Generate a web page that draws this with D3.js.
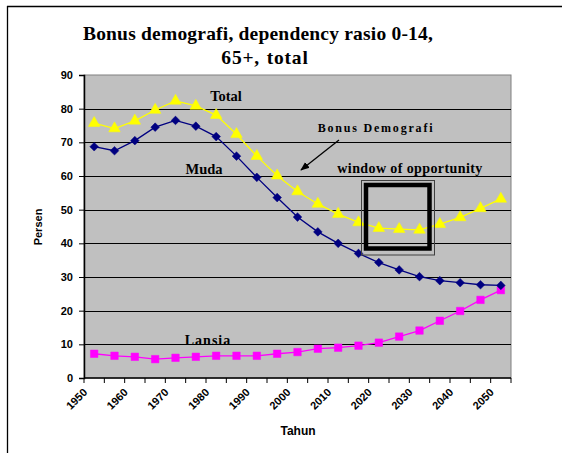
<!DOCTYPE html>
<html>
<head>
<meta charset="utf-8">
<script src="https://cdn.jsdelivr.net/npm/d3@7"></script>
<style>
  html, body { margin: 0; padding: 0; background: #fff; }
  svg { display: block; }
</style>
</head>
<body>
<svg id="chart" width="562" height="453"></svg>
<script>
// ---- data ----
const years = ["1950","1955","1960","1965","1970","1975","1980","1985","1990","1995","2000",
               "2005","2010","2015","2020","2025","2030","2035","2040","2045","2050"];
const tickLabels = ["1950","1960","1970","1980","1990","2000","2010","2020","2030","2040","2050"];
const totalValues = [75.7,74.1,76.4,79.6,82.3,80.8,78.1,72.4,65.9,60.1,55.4,51.7,48.7,46.2,44.5,44.2,44.0,45.7,47.7,50.4,53.2];
const mudaValues  = [68.7,67.5,70.5,74.5,76.5,74.8,71.7,65.9,59.6,53.6,47.8,43.4,40.0,37.0,34.3,32.1,30.1,28.9,28.3,27.7,27.5];
const lansiaValues= [7.2,6.6,6.3,5.6,6.0,6.3,6.6,6.6,6.6,7.2,7.7,8.7,9.0,9.6,10.5,12.3,14.1,17.0,19.9,23.2,26.1];
const yTicks = [0,10,20,30,40,50,60,70,80,90];

// ---- layout ----
const svg = d3.select("#chart");
const plot = {left: 84, right: 511, top: 75, bottom: 378};

const x = d3.scaleBand().domain(years).range([plot.left, plot.right]).padding(0);
const y = d3.scaleLinear().domain([0, 90]).range([plot.bottom, plot.top]);
const cx = d => x(d) + x.bandwidth() / 2;

// outer frame
svg.append("line").attr("x1", 7.5).attr("x2", 7.5).attr("y1", 6).attr("y2", 453)
  .attr("stroke", "#000").attr("stroke-width", 1.3);
svg.append("line").attr("x1", 7).attr("x2", 562).attr("y1", 6.5).attr("y2", 6.5)
  .attr("stroke", "#000").attr("stroke-width", 1.3);

// title
const serif = "'Liberation Serif','Times New Roman',serif";
const title = svg.append("text").attr("text-anchor", "middle")
  .attr("font-family", serif)
  .attr("font-weight", "bold").attr("font-size", 19.5).attr("fill", "#000");
title.append("tspan").attr("x", 258).attr("y", 40).attr("letter-spacing", 0.2)
  .text("Bonus demografi, dependency rasio 0-14,");
title.append("tspan").attr("x", 265).attr("y", 64).attr("letter-spacing", 0.8).attr("word-spacing", 1)
  .text("65+, total");

// plot background
svg.append("rect").attr("x", plot.left).attr("y", plot.top)
  .attr("width", plot.right - plot.left).attr("height", plot.bottom - plot.top)
  .attr("fill", "#C0C0C0").attr("stroke", "#808080").attr("stroke-width", 1);

// gridlines
svg.append("g").selectAll("line").data(yTicks.filter(t => t > 0 && t < 90)).join("line")
  .attr("x1", plot.left).attr("x2", plot.right)
  .attr("y1", d => Math.round(y(d)) + 0.5).attr("y2", d => Math.round(y(d)) + 0.5)
  .attr("stroke", "#000").attr("stroke-width", 1.2);

// y axis
const yAxis = d3.axisLeft(y).tickValues(yTicks).tickSize(5).tickPadding(6);
const gy = svg.append("g").attr("transform", `translate(${plot.left},0)`).call(yAxis);
gy.select(".domain").attr("stroke", "#000").attr("stroke-width", 1.5);
gy.selectAll(".tick line").attr("stroke", "#000");
gy.selectAll(".tick text").attr("font-family", "'Liberation Sans',Arial,sans-serif")
  .attr("font-weight", "bold").attr("font-size", 11).attr("fill", "#000");

// x axis: ticks at category boundaries
const boundaries = d3.range(years.length + 1).map(i => plot.left + i * x.bandwidth());
const gx = svg.append("g");
gx.append("line").attr("x1", plot.left).attr("x2", plot.right)
  .attr("y1", plot.bottom).attr("y2", plot.bottom).attr("stroke", "#000").attr("stroke-width", 1.5);
gx.selectAll("line.tk").data(boundaries).join("line").attr("class", "tk")
  .attr("x1", d => d).attr("x2", d => d).attr("y1", plot.bottom).attr("y2", plot.bottom + 5)
  .attr("stroke", "#000");
gx.selectAll("text").data(tickLabels).join("text")
  .attr("transform", (d, i) => `translate(${boundaries[i * 2] + 4},${plot.bottom + 15}) rotate(-45)`)
  .attr("text-anchor", "end")
  .attr("font-family", "'Liberation Sans',Arial,sans-serif")
  .attr("font-weight", "bold").attr("font-size", 11).attr("fill", "#000")
  .text(d => d);

// axis titles
svg.append("text").attr("x", 298).attr("y", 435).attr("text-anchor", "middle")
  .attr("font-family", "'Liberation Sans',Arial,sans-serif")
  .attr("font-weight", "bold").attr("font-size", 12).text("Tahun");
svg.append("text").attr("transform", "translate(42,227) rotate(-90)").attr("text-anchor", "middle")
  .attr("font-family", "'Liberation Sans',Arial,sans-serif")
  .attr("font-weight", "bold").attr("font-size", 11).text("Persen");

// series
const line = d3.line().x((d, i) => cx(years[i])).y(d => y(d));
function series(values, color, symbol, size) {
  const g = svg.append("g");
  g.append("path").datum(values).attr("d", line).attr("fill", "none")
    .attr("stroke", color).attr("stroke-width", 1.3);
  g.selectAll("path.m").data(values).join("path").attr("class", "m")
    .attr("transform", (d, i) => `translate(${cx(years[i])},${y(d)})`)
    .attr("d", d3.symbol().type(symbol).size(size))
    .attr("fill", color).attr("stroke", color).attr("stroke-width", 0.5);
}
const diamond = {
  draw(ctx, size) {
    const r = Math.sqrt(size) / 1.6;
    ctx.moveTo(0, -r); ctx.lineTo(r, 0); ctx.lineTo(0, r); ctx.lineTo(-r, 0); ctx.closePath();
  }
};
series(lansiaValues, "#FF00FF", d3.symbolSquare, 56);
series(mudaValues, "#000080", diamond, 48);
series(totalValues, "#FFFF00", d3.symbolTriangle, 58);

// annotations
function label(txt, xx, yy, size, spacing) {
  svg.append("text").attr("x", xx).attr("y", yy).attr("text-anchor", "middle")
    .attr("font-family", serif).attr("font-weight", "bold").attr("font-size", size)
    .attr("letter-spacing", spacing || 0).attr("fill", "#000").text(txt);
}
label("Total", 226, 101, 14.5);
label("Muda", 204, 174, 14.5);
label("Lansia", 208, 345, 14, 1);
label("Bonus Demografi", 376, 132, 12, 1.8);
label("window of opportunity", 410, 173, 14, 0.4);

// arrow
svg.append("defs").append("marker").attr("id", "ah").attr("viewBox", "0 0 10 10")
  .attr("refX", 9).attr("refY", 5).attr("markerWidth", 7).attr("markerHeight", 7)
  .attr("orient", "auto").append("path").attr("d", "M0,1 L10,5 L0,9 z").attr("fill", "#000");
svg.append("line").attr("x1", 339).attr("y1", 140).attr("x2", 301).attr("y2", 170)
  .attr("stroke", "#000").attr("stroke-width", 1.3).attr("marker-end", "url(#ah)");

// window box
svg.append("rect").attr("x", 361.5).attr("y", 180.5).attr("width", 73).attr("height", 74.5)
  .attr("fill", "none").attr("stroke", "#404040").attr("stroke-width", 1);
svg.append("rect").attr("x", 366).attr("y", 185).attr("width", 63.5).attr("height", 63.5)
  .attr("fill", "none").attr("stroke", "#000").attr("stroke-width", 4.5);
</script>
</body>
</html>
